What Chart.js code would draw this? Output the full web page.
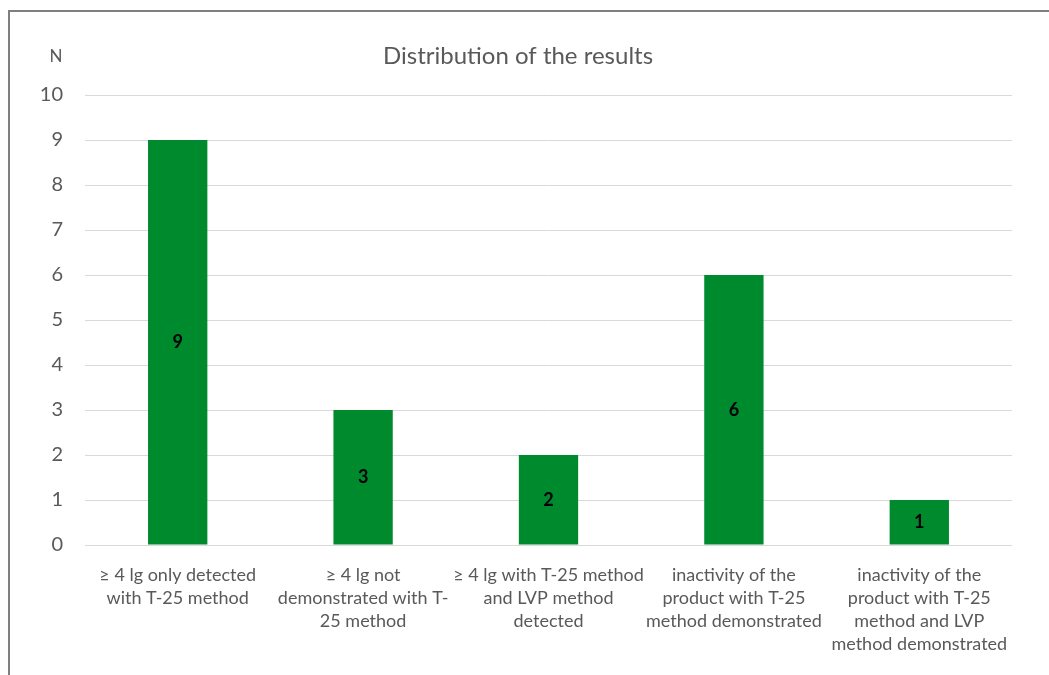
<!DOCTYPE html>
<html>
<head>
<meta charset="utf-8">
<script src="https://cdn.jsdelivr.net/npm/chart.js@4"></script>
<style>
  html, body { margin: 0; padding: 0; background: #fff; overflow: hidden; }
  #frame { position: absolute; left: 8px; top: 10px; width: 1100px; height: 700px;
           border-left: 2px solid #7f7f7f; border-top: 2px solid #7f7f7f; }
  #wrap { position: absolute; left: 0; top: 0; width: 1049px; height: 675px; }
</style>
</head>
<body>
<div id="frame"></div>
<div id="wrap"><canvas id="myChart" width="1049" height="675"></canvas></div>
<script>
var categories = [
  ["\u2265 4 lg only detected", "with T-25 method"],
  ["\u2265 4 lg not", "demonstrated with T-", "25 method"],
  ["\u2265 4 lg with T-25 method", "and LVP method", "detected"],
  ["inactivity of the", "product with T-25", "method demonstrated"],
  ["inactivity of the", "product with T-25", "method and LVP", "method demonstrated"]
];
var counts = [9, 3, 2, 6, 1];
var yTicks = [0, 1, 2, 3, 4, 5, 6, 7, 8, 9, 10];
var chartTitle = "Distribution of the results";
var barColor = "#008A2E";
var textColor = "#595959";
var fontFamily = "Lato, 'Noto Sans', sans-serif";

// title, "N" caption and the value in the middle of each bar
var extras = {
  id: "extras",
  afterDatasetsDraw: function(chart) {
    var ctx = chart.ctx;
    var meta = chart.getDatasetMeta(0);
    ctx.save();
    ctx.textAlign = "center";
    ctx.textBaseline = "middle";
    ctx.font = "bold 18px " + fontFamily;
    ctx.fillStyle = "#000";
    meta.data.forEach(function(bar, i) {
      ctx.fillText(counts[i], bar.x, (bar.y + bar.base) / 2);
    });
    ctx.fillStyle = textColor;
    ctx.font = "24px " + fontFamily;
    ctx.fillText(chartTitle, 518, 56);
    ctx.font = "17px " + fontFamily;
    ctx.fillText("N", 56, 57);
    ctx.restore();
  }
};

new Chart("myChart", {
  type: "bar",
  data: {
    labels: categories,
    datasets: [{
      data: counts,
      backgroundColor: barColor,
      categoryPercentage: 1,
      barPercentage: 0.32
    }]
  },
  options: {
    responsive: false,
    animation: false,
    layout: { padding: { left: 0, right: 37, top: 95, bottom: 0 } },
    plugins: {
      legend: { display: false },
      tooltip: { enabled: false },
      title: { display: false }
    },
    scales: {
      x: {
        grid: { display: false },
        border: { display: false },
        ticks: {
          color: textColor,
          font: { family: fontFamily, size: 18, lineHeight: "23px" },
          maxRotation: 0,
          autoSkip: false,
          padding: 11
        },
        afterFit: function(s) { s.height = 130; }
      },
      y: {
        min: 0,
        max: 10,
        afterBuildTicks: function(s) { s.ticks = yTicks.map(function(v) { return { value: v }; }); },
        grid: { color: "#d9d9d9", lineWidth: 1, drawTicks: false },
        border: { display: false },
        ticks: {
          color: textColor,
          font: { family: fontFamily, size: 20 },
          padding: 22
        },
        afterFit: function(s) { s.width = 85; }
      }
    }
  },
  plugins: [extras]
});
</script>
</body>
</html>
